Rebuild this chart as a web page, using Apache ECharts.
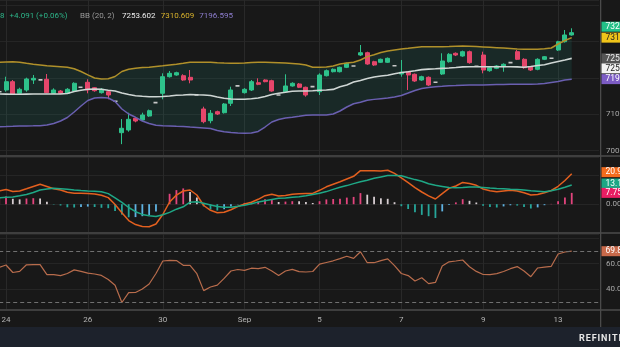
<!DOCTYPE html>
<html><head><meta charset="utf-8">
<script src="https://cdn.jsdelivr.net/npm/echarts@6/dist/echarts.min.js"></script>
<style>html,body{margin:0;padding:0;background:#181818;}#c{width:620px;height:347px;}</style>
</head><body><div id="c"></div>
<script>
// ---------- data ----------
const dayLabels = ['24', '26', '30', 'Sep', '5', '7', '9', '13'];
const dayLabelIndex = [1, 13, 24, 36, 47, 59, 71, 82];
const barCount = 89; // visible slots on the time axis (85 bars + right margin)

const open = [
7162, 7166.8, 7189.6, 7157.7, 7166.8, 7194.2, 7194.5, 7196.2, 7157.7, 7164.0,
7157.7, 7164.0, 7174.5, 7187.9, 7173.1, 7159.4, 7162.1, 7136, 7049.5, 7056.9,
7089.0, 7084.4, 7095.3, 7132, 7157.7, 7203.3, 7208, 7206.1, 7201.6, 7153.5,
7114.6, 7082.4, 7107.2, 7104.4, 7130.2, 7178, 7159.4, 7166.8, 7186.8, 7194.2,
7192.3, 7153, 7162.1, 7177.8, 7183.3, 7174.2, 7176, 7162.1, 7206.0, 7217.0,
7217.0, 7229.1, 7232.5, 7262.9, 7269.2, 7244.5, 7242.9, 7242.9, 7233.5, 7210.7,
7217.0, 7209.9, 7194.2, 7201.7, 7188, 7210.7, 7244.5, 7267.6, 7260.2, 7272.0,
7232, 7262.9, 7219.8, 7226.4, 7230.8, 7242, 7272.0, 7251.1, 7230.8, 7223.6,
7251.1, 7254, 7276.6, 7299.4, 7317.9];
const close = [
7162, 7189.6, 7155.8, 7168.7, 7197.0, 7198.9, 7194.5, 7159.4, 7166.8, 7157.7,
7168.7, 7185.2, 7174.5, 7166.8, 7164.8, 7168.7, 7153.0, 7136, 7061.6, 7086.3,
7081.6, 7098.1, 7109.9, 7132, 7203.3, 7212.6, 7214.3, 7194.2, 7194.2, 7153.5,
7079.7, 7102.8, 7100.8, 7128.3, 7166.8, 7178, 7168.7, 7189.6, 7182.4, 7189.6,
7164.0, 7153, 7177.8, 7185.2, 7174.2, 7153.0, 7176, 7208.0, 7219.8, 7223.6,
7229.1, 7240.1, 7232.5, 7269.2, 7238.2, 7235.4, 7251.1, 7253.8, 7233.5, 7215.4,
7208.0, 7191.5, 7203.3, 7180.5, 7188, 7246.4, 7264.8, 7262.9, 7272.0, 7241.8,
7232, 7221.7, 7228.0, 7232.7, 7237.4, 7242, 7251.1, 7228.0, 7221.7, 7251.1,
7258.2, 7254, 7299.4, 7317.9, 7324.208];
const high = [
7162, 7203.3, 7194.2, 7173, 7200.6, 7208.0, 7194.5, 7210.7, 7171.4, 7166.8,
7172, 7188, 7174.5, 7196.2, 7175, 7172, 7164, 7136, 7087, 7104.4,
7092, 7104.4, 7113, 7132, 7212.6, 7219, 7217, 7210, 7221.7, 7153.5,
7120.9, 7111.8, 7110, 7131, 7175.8, 7178, 7172, 7194.2, 7198.9, 7196,
7195, 7153, 7209.9, 7188, 7186, 7176, 7176, 7212.6, 7223, 7226,
7231, 7242, 7232.5, 7290.4, 7272, 7247, 7253, 7256, 7233.5, 7249.2,
7219, 7212, 7206, 7204, 7188, 7267.6, 7268, 7270, 7275, 7275,
7232, 7272.0, 7232, 7235, 7240, 7242, 7276.6, 7254, 7233, 7254,
7260, 7254, 7302, 7331.6, 7336.3];
const low = [
7162, 7162.1, 7153.0, 7156, 7162.1, 7183.3, 7194.5, 7157.7, 7156, 7156,
7156, 7162, 7174.5, 7157.7, 7162, 7157, 7141.2, 7136, 7018, 7052.2,
7078, 7082, 7093, 7132, 7141.2, 7201, 7206, 7192, 7185.2, 7153.5,
7075.3, 7075.3, 7098, 7102, 7122.8, 7178, 7157, 7164, 7180, 7188,
7162, 7153, 7160, 7176, 7172, 7148.4, 7176, 7153.0, 7204, 7215,
7215, 7227, 7232.5, 7260, 7236, 7233, 7241, 7241, 7233.5, 7203.3,
7166.8, 7189, 7192, 7178, 7188, 7208.0, 7242, 7260, 7258, 7239,
7232, 7212.6, 7217, 7224, 7217, 7242, 7249, 7225, 7219, 7221,
7249, 7254, 7274, 7297, 7316];

const bbUpper = [
7242.9, 7243.7, 7244.2, 7242.9, 7240.1, 7237.4, 7235.4, 7233.2, 7231.9, 7230.5,
7229.1, 7225.0, 7217.6, 7208.5, 7199.7, 7197.0, 7197.5, 7203.9, 7217.6, 7223.9,
7226.7, 7228.6, 7229.4, 7231.3, 7233.2, 7235.4, 7237.6, 7240.1, 7242.9, 7242.9,
7242.9, 7242.9, 7241.8, 7240.9, 7240.4, 7240.1, 7240.9, 7242.0, 7242.9, 7242.9,
7242.3, 7241.5, 7240.7, 7239.6, 7238.2, 7235.4, 7229.4, 7229.1, 7230.0, 7232.7,
7238.2, 7240.9, 7243.1, 7249.2, 7258.5, 7263.5, 7269.8, 7273.9, 7276.7, 7279.4,
7281.3, 7283.5, 7285.4, 7285.7, 7285.7, 7285.7, 7286.0, 7286.8, 7287.6, 7286.8,
7286.0, 7285.2, 7284.1, 7283.0, 7281.9, 7280.8, 7279.4, 7278.6, 7278.6, 7278.6,
7279.9, 7282.1, 7293.1, 7302.7, 7310.609];
const bbMid = [
7155.8, 7155.5, 7155.2, 7155.0, 7155.5, 7155.8, 7155.8, 7155.8, 7155.8, 7155.8,
7157.2, 7162.6, 7165.9, 7169.0, 7169.5, 7168.7, 7165.9, 7164.0, 7158.5, 7154.4,
7151.1, 7149.7, 7148.4, 7148.4, 7148.9, 7150.3, 7152.2, 7153.0, 7154.4, 7153.6,
7153.0, 7151.7, 7147.5, 7144.0, 7142.0, 7141.2, 7141.5, 7142.9, 7144.8, 7148.9,
7154.4, 7157.7, 7160.5, 7163.5, 7164.0, 7164.0, 7164.6, 7165.9, 7166.8, 7168.4,
7175.6, 7180.5, 7188.7, 7193.1, 7198.1, 7202.5, 7205.2, 7207.4, 7211.3, 7214.8,
7217.0, 7219.8, 7222.8, 7224.2, 7225.0, 7226.1, 7227.2, 7228.6, 7230.2, 7230.8,
7230.8, 7230.8, 7230.8, 7230.8, 7230.8, 7230.8, 7230.2, 7229.4, 7231.3, 7234.1,
7236.0, 7240.9, 7245.1, 7249.2, 7253.602];
const bbLower = [
7066.0, 7066.5, 7067.1, 7067.9, 7068.2, 7068.4, 7068.7, 7070.6, 7074.8, 7081.6,
7091.2, 7106.3, 7122.8, 7137.9, 7144.8, 7146.2, 7144.8, 7135.2, 7114.6, 7100.8,
7091.8, 7081.6, 7074.8, 7069.8, 7068.4, 7067.9, 7067.1, 7066.5, 7065.1, 7063.8,
7062.4, 7061.0, 7055.5, 7051.9, 7050.0, 7048.6, 7047.8, 7048.6, 7052.8, 7065.1,
7078.9, 7085.7, 7089.9, 7092.1, 7094.5, 7097.3, 7098.1, 7098.1, 7098.1, 7100.8,
7109.1, 7120.1, 7128.9, 7133.3, 7138.8, 7141.0, 7142.9, 7144.8, 7147.5, 7151.7,
7158.5, 7165.4, 7170.9, 7173.6, 7175.6, 7176.9, 7178.6, 7179.1, 7179.7, 7180.2,
7180.5, 7180.5, 7181.1, 7181.6, 7181.9, 7182.4, 7182.4, 7182.4, 7182.4, 7183.3,
7184.6, 7187.4, 7190.1, 7194.2, 7196.595];

const macd = [
9.04, 10.07, 8.70, 9.04, 10.55, 12.12, 13.63, 12.12, 10.62, 9.73,
8.15, 7.53, 7.47, 7.40, 6.92, 6.10, 4.52, -0.27, -5.89, -11.23,
-13.97, -15.21, -15.41, -13.56, -7.05, 1.51, 6.23, 9.04, 9.73, 6.30,
-0.89, -4.18, -5.82, -5.55, -3.77, -1.58, 0.14, 1.37, 3.36, 5.82,
6.78, 5.55, 6.03, 6.85, 7.12, 7.26, 7.40, 9.52, 11.92, 13.70,
15.41, 17.26, 19.11, 22.95, 22.95, 22.88, 22.74, 23.29, 21.10, 18.08,
14.79, 11.37, 8.36, 5.75, 3.56, 7.26, 10.89, 12.47, 14.93, 14.18,
12.95, 10.41, 9.25, 8.56, 9.04, 9.52, 9.04, 7.81, 6.30, 6.71,
7.88, 9.38, 12.26, 16.23, 20.915];
const signal = [
4.45, 4.73, 5.00, 5.75, 6.64, 8.01, 9.73, 10.41, 10.89, 10.62,
10.27, 9.79, 9.38, 9.04, 8.84, 8.56, 7.26, 4.32, 1.23, -2.26,
-5.14, -6.99, -7.88, -8.49, -7.19, -5.62, -3.42, -1.78, 1.37, 1.71,
0.62, -0.55, -1.51, -2.12, -2.12, -1.44, -0.75, 0.27, 1.51, 2.40,
3.22, 4.04, 4.25, 4.79, 5.14, 5.82, 6.58, 7.47, 8.63, 10.14,
11.64, 12.74, 14.11, 15.34, 16.44, 17.74, 18.70, 19.59, 19.73, 19.45,
18.08, 16.85, 15.68, 13.97, 13.01, 12.19, 11.37, 11.23, 11.51, 11.85,
11.78, 11.51, 11.10, 10.82, 10.55, 10.27, 10.00, 9.66, 9.25, 8.90,
8.56, 9.18, 10.21, 11.64, 13.165];
const hist = [
4.59, 5.34, 3.70, 3.29, 3.91, 4.11, 3.90, 1.71, -0.27, -0.89,
-2.12, -2.26, -1.91, -1.64, -1.92, -2.46, -2.74, -4.59, -7.12, -8.97,
-8.83, -8.22, -7.53, -5.07, 0.14, 7.13, 9.65, 10.82, 8.36, 4.59,
-1.51, -3.63, -4.31, -3.43, -1.65, -0.14, 0.89, 1.10, 1.85, 3.42,
3.56, 1.51, 1.78, 2.06, 1.98, 1.44, 0.82, 2.05, 3.29, 3.56,
3.77, 4.52, 5.00, 7.61, 6.51, 5.14, 4.04, 3.70, 1.37, -1.37,
-3.29, -5.48, -7.32, -8.22, -9.45, -4.93, -0.48, 1.24, 3.42, 2.33,
1.17, -1.10, -1.85, -2.26, -1.51, -0.75, -0.96, -1.85, -2.95, -2.19,
-0.68, 0.20, 2.05, 4.59, 7.75];
const rsi = [
57.06, 59.02, 53.14, 54.0, 59.18, 59.25, 59.25, 51.41, 51.41, 50.71,
52.35, 55.18, 54.0, 52.59, 51.96, 50.86, 47.65, 43.1, 29.6, 37.3,
37.45, 40.2, 44.12, 52.35, 62.16, 62.71, 62.47, 58.78, 58.78, 52.2,
38.94, 41.76, 43.18, 48.51, 54.31, 55.49, 54.78, 56.51, 56.2, 57.22,
54.31, 50.78, 54.31, 55.57, 53.84, 53.53, 53.92, 59.65, 60.98, 62.31,
64.04, 65.84, 64.2, 69.45, 60.82, 60.82, 62.47, 63.8, 58.55, 52.35,
50.71, 46.47, 49.06, 44.43, 45.37, 58.24, 61.53, 62.16, 62.94, 57.61,
54.0, 51.57, 51.49, 52.2, 53.92, 56.12, 57.76, 54.31, 49.84, 56.67,
57.37, 58.0, 67.65, 69.22, 69.83];
const rsiLevels = [70, 30];
const headerChange = '+4.091 (+0.06%)';
const bbTitle = 'BB (20, 2)';

// ---------- chart ----------
const chart = echarts.init(document.getElementById('c'), null, {renderer: 'canvas'});
const FONT = 'Roboto, "Noto Sans", sans-serif';
const categories = Array.from({length: barCount}, (_, i) => String(i));
const labelAt = {};
dayLabelIndex.forEach((k, n) => { labelAt[k] = dayLabels[n]; });
const last = a => a[a.length - 1];

const UP = '#2ec28b', DOWN = '#e5466b', DASH = '#c8c8c8';
const candleData = open.map((o, i) => {
  const d = {value: [o, close[i], low[i], high[i]]};
  if (o === close[i] && high[i] === low[i]) {
    d.itemStyle = {color: DASH, color0: DASH, borderColor: DASH, borderColor0: DASH, borderColorDoji: DASH, borderWidth: 1.6};
  }
  return d;
});
function histColor(i) {
  const v = hist[i], p = i > 0 ? hist[i - 1] : v;
  if (v >= 0) return v >= p ? '#e2447d' : '#d6cdd1';
  return v <= p ? '#26a69a' : '#5fb3e2';
}
const histData = hist.map((v, i) => ({value: v, itemStyle: {color: histColor(i)}}));
const bandWidth = bbUpper.map((u, i) => u - bbLower[i]);

const gridBase = {left: -0.8, right: 21, containLabel: false, outerBoundsMode: 'none'};
const grids = [
  Object.assign({top: 0, height: 155}, gridBase),
  Object.assign({top: 157, height: 75}, gridBase),
  Object.assign({top: 234, height: 75}, gridBase)
];
const xAxes = [0, 1, 2].map(k => ({
  type: 'category', gridIndex: k, data: categories, boundaryGap: false,
  axisLine: {show: false}, axisTick: {show: false},
  axisLabel: {show: k === 2, interval: 0, formatter: (v, i) => labelAt[i] || '',
    color: '#b4b4b4', fontSize: 8, fontFamily: FONT, margin: 7},
  splitLine: {show: true, interval: (i) => labelAt[i] !== undefined, lineStyle: {color: '#292929', width: 1}}
}));
const yBase = {type: 'value', position: 'right', scale: true,
  axisLine: {show: false}, axisTick: {show: false},
  splitLine: {show: true, lineStyle: {color: '#252525', width: 1}}};
const near = (a, b) => Math.abs(a - b) < 1e-6;
const yAxes = [
  Object.assign({}, yBase, {gridIndex: 0, min: 6988.2, max: 7414, splitNumber: 4,
    axisLabel: {color: '#a8a8a8', fontSize: 8, fontFamily: FONT, margin: 7,
      formatter: v => (near(v, 7000) || near(v, 7100)) ? String(Math.round(v)) : ''}}),
  Object.assign({}, yBase, {gridIndex: 1, min: -19.04, max: 32.33, splitNumber: 3,
    axisLabel: {color: '#a8a8a8', fontSize: 8, fontFamily: FONT, margin: 7,
      formatter: v => near(v, 0) ? '0.00' : ''}}),
  Object.assign({}, yBase, {gridIndex: 2, min: 24.51, max: 83.33, splitNumber: 3,
    axisLabel: {color: '#a8a8a8', fontSize: 8, fontFamily: FONT, margin: 7,
      formatter: v => (near(v, 40) || near(v, 60)) ? v.toFixed(1) : ''}})
];

const lineS = (name, data, color, width, xi, yi) => ({
  name, type: 'line', data, xAxisIndex: xi, yAxisIndex: yi, symbol: 'none', silent: true,
  lineStyle: {color, width}, z: 3
});

const option = {
  backgroundColor: '#181818',
  animation: false,
  textStyle: {fontFamily: FONT},
  grid: grids, xAxis: xAxes, yAxis: yAxes,
  series: [
    {name: 'bbBase', type: 'line', data: bbLower, stack: 'bb', symbol: 'none', silent: true,
     lineStyle: {opacity: 0}, xAxisIndex: 0, yAxisIndex: 0, z: 1},
    {name: 'bbBand', type: 'line', data: bandWidth, stack: 'bb', symbol: 'none', silent: true,
     lineStyle: {opacity: 0}, areaStyle: {color: 'rgba(38,166,154,0.17)'}, xAxisIndex: 0, yAxisIndex: 0, z: 1},
    {name: 'price', type: 'candlestick', data: candleData, xAxisIndex: 0, yAxisIndex: 0, barWidth: 4.5,
     silent: true, z: 2,
     itemStyle: {color: UP, color0: DOWN, borderColor: UP, borderColor0: DOWN, borderWidth: 1}},
    lineS('upper', bbUpper, '#b0902a', 1.5, 0, 0),
    lineS('basis', bbMid, '#cfd6d4', 1.6, 0, 0),
    lineS('lower', bbLower, '#6a5fb0', 1.5, 0, 0),
    {name: 'hist', type: 'bar', data: histData, xAxisIndex: 1, yAxisIndex: 1, barWidth: 1.8, silent: true, z: 2},
    lineS('macd', macd, '#e3601f', 1.5, 1, 1),
    lineS('signal', signal, '#1fa886', 1.5, 1, 1),
    Object.assign(lineS('rsi', rsi, '#b86c4c', 1.2, 2, 2), {
      markLine: {silent: true, symbol: 'none', label: {show: false}, animation: false,
        lineStyle: {color: '#707070', type: [4, 3], width: 1},
        data: rsiLevels.map(v => ({yAxis: v}))}
    })
  ]
};
chart.setOption(option);

// ---------- frame, header and price tags ----------
const g = [];
const SEP = '#3e3e3e';
g.push({type: 'rect', shape: {x: 0, y: 155, width: 620, height: 2}, style: {fill: SEP}, z: 50, silent: true});
g.push({type: 'rect', shape: {x: 0, y: 232, width: 620, height: 2}, style: {fill: SEP}, z: 50, silent: true});
g.push({type: 'rect', shape: {x: 0, y: 309, width: 620, height: 2}, style: {fill: SEP}, z: 50, silent: true});
g.push({type: 'rect', shape: {x: 600, y: 0, width: 1.3, height: 327}, style: {fill: '#4a4a4a'}, z: 50, silent: true});
g.push({type: 'rect', shape: {x: 0, y: 327, width: 620, height: 20}, style: {fill: '#1d222c'}, z: 50, silent: true});
g.push({type: 'text', x: 579, y: 339, z: 51, silent: true,
  style: {text: 'REFINITIV'.split('').join('\u200a'), fill: '#e6e6e6', font: 'bold 9px ' + FONT, align: 'left', verticalAlign: 'middle'}});

const hdr = (x, text, fill) => g.push({type: 'text', x, y: 16, z: 51, silent: true,
  style: {text, fill, font: '8px ' + FONT, align: 'left', verticalAlign: 'middle'}});
hdr(0, last(close).toFixed(3).slice(-1), '#2db68a');
hdr(9.5, headerChange, '#2db68a');
hdr(80, bbTitle, '#9a9a9a');
hdr(122, last(bbMid).toFixed(3), '#ececec');
hdr(160.7, last(bbUpper).toFixed(3), '#d9b22c');
hdr(199.3, last(bbLower).toFixed(3), '#8f7fd1');

function tag(axis, value, text, bg, fg, dy) {
  const y = chart.convertToPixel({yAxisIndex: axis}, value) + (dy || 0);
  g.push({type: 'rect', shape: {x: 601.5, y: y - 5, width: 30, height: 10}, style: {fill: bg}, z: 60, silent: true});
  g.push({type: 'text', x: 605.5, y: y, z: 61, silent: true,
    style: {text, fill: fg, font: '8.5px ' + FONT, align: 'left', verticalAlign: 'middle'}});
}
tag(0, last(close), last(close).toFixed(3), '#22c087', '#ffffff', -6);
tag(0, last(bbUpper), last(bbUpper).toFixed(3), '#f0c419', '#222222', 0);
tag(0, last(bbMid), last(bbMid).toFixed(3), '#555555', '#eeeeee', 0);
tag(0, last(bbMid), last(bbMid).toFixed(3), '#f2f2f2', '#222222', 10);
tag(0, last(bbLower), last(bbLower).toFixed(3), '#7c5cc4', '#ffffff', 0);
tag(1, last(macd), last(macd).toFixed(3), '#f26b1d', '#ffffff', -1.5);
tag(1, last(signal), last(signal).toFixed(3), '#1ba784', '#ffffff', -1.5);
tag(1, last(hist), last(hist).toFixed(3), '#e91e63', '#ffffff', 0);
tag(2, last(rsi), last(rsi).toFixed(2), '#c8694a', '#ffffff', 0);

chart.setOption({graphic: g});
</script>
</body></html>
